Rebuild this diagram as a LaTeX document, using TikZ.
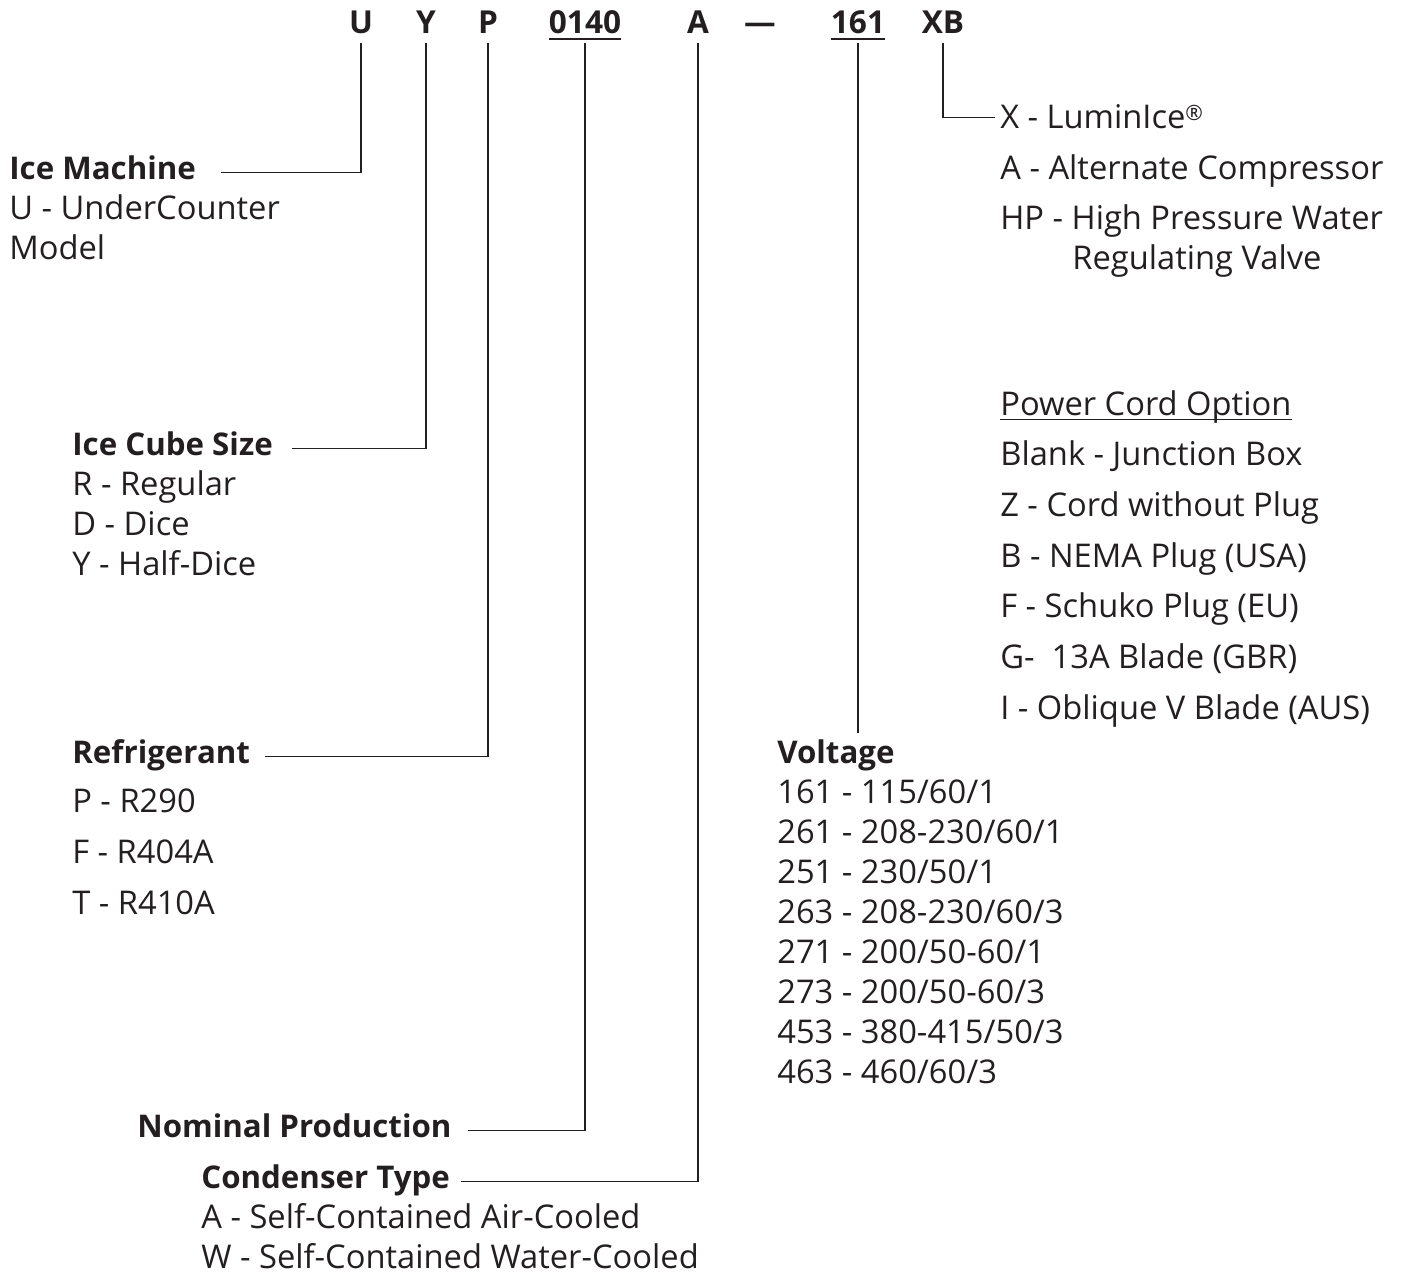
\documentclass[tikz,border=0pt]{standalone}
\usepackage{fontspec}
\setmainfont{Open Sans}
\usetikzlibrary{positioning}
\definecolor{ink}{HTML}{231F20}

\begin{document}
\begin{tikzpicture}[x=0.02cm,y=-0.02cm,
	every node/.style={text=ink, inner sep=0pt},
	code/.style={font=\fontsize{18}{22}\selectfont\bfseries, anchor=base, text depth=5pt},
	title/.style={font=\fontsize{17.8}{23}\selectfont\bfseries, anchor=base west, text height=7pt, text depth=0pt},
	item/.style={font=\fontsize{18.6}{23}\selectfont, anchor=base west},
	link/.style={draw=ink, line width=0.7pt},
	uline/.style={draw=ink, line width=1.1pt}]
	\useasboundingbox (0,0) rectangle (1403,1274);
	% model number
	\node[code] (hU) at (361,34) {U};
	\node[code] (hY) at (426,34) {Y};
	\node[code] (hP) at (488,34) {P};
	\node[code] (h0140) at (585,34) {0140};
	\node[code] (hA) at (698,34) {A};
	\node[code] (hdash) at (760,34) {---};
	\node[code] (h161) at (858,34) {161};
	\node[code] (hXB) at (943,34) {XB};
	\draw[uline] ([yshift=-2.6pt]h0140.base west) -- ([yshift=-2.6pt]h0140.base east);
	\draw[uline] ([yshift=-2.6pt]h161.base west) -- ([yshift=-2.6pt]h161.base east);
	% ice machine
	\node[title] (machine) at (9,179) {Ice Machine};
	\node[item] (machine1) at (9,219) {U - UnderCounter};
	\node[item] (machine2) at (9,259) {Model};
	% ice cube size
	\node[title] (cube) at (72,455) {Ice Cube Size};
	\foreach \t [count=\i] in {R - Regular, D - Dice, Y - Half-Dice}
		\node[item] (cube\i) at (72,455+40*\i) {\t};
	% refrigerant
	\node[title] (refrig) at (72,763) {Refrigerant};
	\foreach \t [count=\i] in {P - R290, F - R404A, T - R410A}
		\node[item] (refrig\i) at (72,761+51*\i) {\t};
	% production and condenser
	\node[title] (prod) at (137,1137) {Nominal Production};
	\node[title] (cond) at (201,1188) {Condenser Type};
	\node[item] (cond1) at (201,1228) {A - Self-Contained Air-Cooled};
	\node[item] (cond2) at (201,1268) {W - Self-Contained Water-Cooled};
	% voltage
	\node[title] (volt) at (777,763) {Voltage};
	\foreach \t [count=\i] in {161 - 115/60/1, 261 - 208-230/60/1, 251 - 230/50/1,
		263 - 208-230/60/3, 271 - 200/50-60/1, 273 - 200/50-60/3,
		453 - 380-415/50/3, 463 - 460/60/3}
		\node[item] (volt\i) at (777,763+40*\i) {\t};
	% options
	\node[item] (lumin) at (1000,129) {X - LuminIce{\fontsize{12}{12}\selectfont\raisebox{5pt}{®}}};
	\node[item] (comp) at (1000,179) {A - Alternate Compressor};
	\node[item] (hp) at (1000,229) {HP - High Pressure Water};
	\node[item] (hp2) at (1072,269) {Regulating Valve};
	% power cord
	\node[item] (cord) at (1000,415) {Power Cord Option};
	\draw[draw=ink, line width=0.6pt] ([yshift=-2.8pt]cord.base west) -- ([yshift=-2.8pt]cord.base east);
	\foreach \t [count=\i] in {Blank - Junction Box, Z - Cord without Plug,
		B - NEMA Plug (USA), F - Schuko Plug (EU), G-~ 13A Blade (GBR),
		I - Oblique V Blade (AUS)}
		\node[item] (cord\i) at (1000,415+50.7*\i) {\t};
	% connectors
	\draw[link, shorten >=14pt] (hU.south) |- (machine.east);
	\draw[link, shorten >=11pt] (hY.south) |- (cube.east);
	\draw[link, shorten >=8.5pt] (hP.south) |- (refrig.east);
	\draw[link, shorten >=9pt] (h0140.south) |- (prod.east);
	\draw[link, shorten >=6pt] (hA.south) |- (cond.east);
	\draw[link, shorten >=10pt] (h161.south) -- (h161.south |- volt.north);
	\draw[link, shorten >=3pt] (hXB.south) |- (lumin.west);
\end{tikzpicture}
\end{document}
